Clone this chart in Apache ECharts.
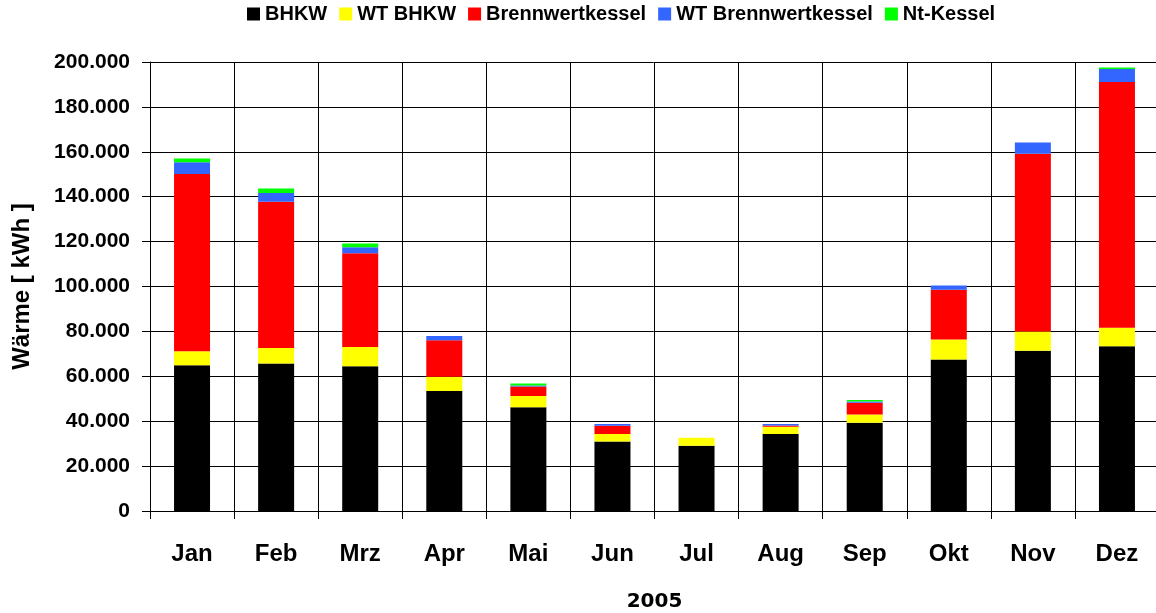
<!DOCTYPE html>
<html>
<head>
<meta charset="utf-8">
<script src="https://cdn.jsdelivr.net/npm/echarts@6/dist/echarts.min.js"></script>
<style>
html,body{margin:0;padding:0;background:#fff;}
#chart{width:1156px;height:613px;}
</style>
</head>
<body>
<div id="chart"></div>
<script>
var categories = ['Jan','Feb','Mrz','Apr','Mai','Jun','Jul','Aug','Sep','Okt','Nov','Dez'];
var seriesNames = ['BHKW','WT BHKW','Brennwertkessel','WT Brennwertkessel','Nt-Kessel'];
var bhkw = [64900, 65700, 64500, 53400, 46200, 31000, 29100, 34300, 39300, 67500, 71400, 73400];
var wtBhkw = [6300, 6900, 8500, 6400, 5000, 3300, 3500, 3200, 3700, 8900, 8600, 8200];
var brennwert = [78900, 65100, 41800, 16300, 4300, 3700, 0, 600, 5200, 22100, 79100, 109500];
var wtBrennwert = [5300, 3900, 2700, 1800, 400, 700, 0, 600, 600, 2000, 5000, 5800];
var ntKessel = [1600, 2000, 1700, 0, 900, 0, 0, 0, 600, 0, 0, 700];
var colors = ['#000000','#FFFF00','#FF0000','#3366FF','#00FF00'];
var yAxisName = 'Wärme [ kWh ]';
var xAxisName = '2005';

var FONT = "'Liberation Sans', Arial, sans-serif";
var dataList = [bhkw, wtBhkw, brennwert, wtBrennwert, ntKessel];

function fmt(v){
  return String(v).replace(/\B(?=(\d{3})+(?!\d))/g, '.');
}

var chart = echarts.init(document.getElementById('chart'), null, {renderer:'canvas'});
chart.setOption({
  animation: false,
  backgroundColor: '#ffffff',
  color: colors,
  legend: {
    left: 247,
    top: 4,
    padding: 0,
    icon: 'rect',
    itemWidth: 13,
    itemHeight: 13,
    itemGap: 12,
    textStyle: {fontFamily: FONT, fontWeight: 'bold', fontSize: 20, color: '#000'},
    data: seriesNames
  },
  grid: {left: 150, top: 62, width: 1009, height: 449, containLabel: false, outerBoundsMode: 'none'},
  xAxis: {
    type: 'category',
    data: categories,
    name: xAxisName,
    nameLocation: 'middle',
    nameGap: 81,
    nameTextStyle: {fontFamily: "'DejaVu Sans', sans-serif", fontWeight: 'bold', fontSize: 20, color: '#000'},
    axisLine: {show: true, lineStyle: {color: '#000', width: 1}},
    axisTick: {show: true, length: 8, lineStyle: {color: '#000'}},
    axisLabel: {fontFamily: FONT, fontWeight: 'bold', fontSize: 24, color: '#000', margin: 31},
    splitLine: {show: true, lineStyle: {color: '#000', width: 1}}
  },
  yAxis: {
    type: 'value',
    min: 0,
    max: 200000,
    interval: 20000,
    name: yAxisName,
    nameLocation: 'middle',
    nameGap: 116,
    nameRotate: 90,
    nameTextStyle: {fontFamily: FONT, fontWeight: 'bold', fontSize: 24, color: '#000'},
    axisLine: {show: true, lineStyle: {color: '#000', width: 1}},
    axisTick: {show: true, length: 8, lineStyle: {color: '#000'}},
    axisLabel: {fontFamily: FONT, fontWeight: 'bold', fontSize: 21, color: '#000', margin: 20, formatter: fmt},
    splitLine: {show: true, lineStyle: {color: '#000', width: 1}}
  },
  series: seriesNames.map(function(n, i){
    return {
      name: n,
      type: 'bar',
      stack: 'total',
      barWidth: 36,
      data: dataList[i],
      itemStyle: {color: colors[i]}
    };
  })
});
</script>
</body>
</html>
